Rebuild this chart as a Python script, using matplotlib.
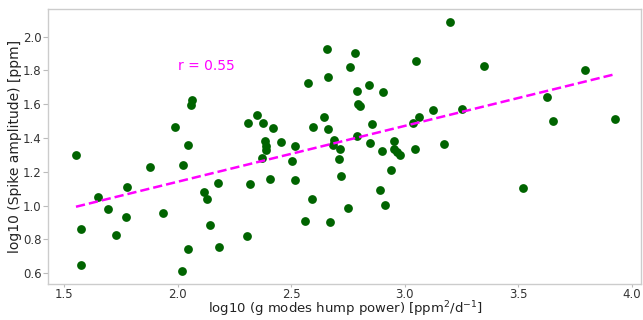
import matplotlib
matplotlib.use("Agg")
import matplotlib.pyplot as plt
import numpy as np

hump_power = [1.553, 1.575, 1.575, 1.650, 1.695, 1.729, 1.779, 1.775, 1.879, 1.936,
              1.989, 2.026, 2.018, 2.048, 2.048, 2.065, 2.061, 2.115, 2.128, 2.143,
              2.180, 2.183, 2.305, 2.311, 2.321, 2.350, 2.375, 2.383, 2.388, 2.388,
              2.372, 2.405, 2.422, 2.454, 2.515, 2.504, 2.519, 2.572, 2.594, 2.591,
              2.560, 2.644, 2.659, 2.660, 2.664, 2.669,
              2.689, 2.686, 2.713, 2.711, 2.719, 2.748, 2.761, 2.782, 2.789, 2.792,
              2.801, 2.791, 2.841, 2.858, 2.845, 2.905, 2.898, 2.889, 2.914, 2.938,
              2.952, 2.951, 2.968, 2.977, 3.035, 3.043, 3.051, 3.063, 3.124, 3.174,
              3.200, 3.252, 3.347, 3.519, 3.626, 3.651, 3.794, 3.925]
spike_amp = [1.300, 0.861, 0.651, 1.052, 0.981, 0.824, 1.109, 0.932, 1.229, 0.954,
             1.465, 1.241, 0.610, 1.361, 0.741, 1.624, 1.597, 1.082, 1.036, 0.885,
             1.133, 0.755, 0.818, 1.487, 1.129, 1.538, 1.487, 1.381, 1.355, 1.329,
             1.280, 1.158, 1.457, 1.375, 1.355, 1.266, 1.150, 1.725, 1.463, 1.040,
             0.907, 1.526, 1.925, 1.758, 1.453, 0.903,
             1.390, 1.357, 1.335, 1.278, 1.172, 0.985, 1.819, 1.902, 1.679, 1.599,
             1.587, 1.412, 1.715, 1.483, 1.373, 1.674, 1.325, 1.091, 1.003, 1.209,
             1.381, 1.333, 1.314, 1.300, 1.487, 1.333, 1.858, 1.522, 1.565, 1.367,
             2.088, 1.571, 1.823, 1.105, 1.642, 1.499, 1.803, 1.512]

fit_slope = 0.3305
fit_intercept = 0.4797
r_label = "r = 0.55"

x_ticks = [1.5, 2.0, 2.5, 3.0, 3.5, 4.0]
y_ticks = [0.6, 0.8, 1.0, 1.2, 1.4, 1.6, 1.8, 2.0]

fig = plt.figure(figsize=(6.43, 3.2), dpi=100)
ax = fig.add_axes([0.0747, 0.112, 0.9223, 0.860])

ax.scatter(hump_power, spike_amp, s=40, color="#006400", zorder=3, linewidths=0)
xf = np.array([min(hump_power), max(hump_power)])
ax.plot(xf, fit_slope * xf + fit_intercept, color="magenta", ls="--", lw=1.8, zorder=4)
ax.text(2.0, 1.823, r_label, color="magenta", fontsize=10, ha="left", va="center")

ax.set_xlim(1.43, 4.04)
ax.set_ylim(0.535, 2.163)
ax.set_xticks(x_ticks)
ax.set_yticks(y_ticks)
ax.set_xticklabels([f"{v:.1f}" for v in x_ticks])
ax.set_yticklabels([f"{v:.1f}" for v in y_ticks])
ax.tick_params(axis="both", labelsize=8.5, labelcolor="#333333", width=0.8,
               color="#bbbbbb")
ax.tick_params(axis="y", pad=1.2, length=3.5)
ax.tick_params(axis="x", pad=0.8, length=2.0)
for s in ax.spines.values():
    s.set_color("#cccccc")
    s.set_linewidth(1.0)

ax.set_xlabel(r"log10 (g modes hump power) [ppm$^2$/d$^{-1}$]", fontsize=9.5, color="#222222")
ax.set_ylabel("log10 (Spike amplitude) [ppm]", fontsize=10, color="#222222")
ax.xaxis.label.set_va("baseline")
ax.xaxis.set_label_coords(0.502, -0.107)
ax.yaxis.set_label_coords(-0.044, 0.5)

fig.savefig("out.png", dpi=100)
